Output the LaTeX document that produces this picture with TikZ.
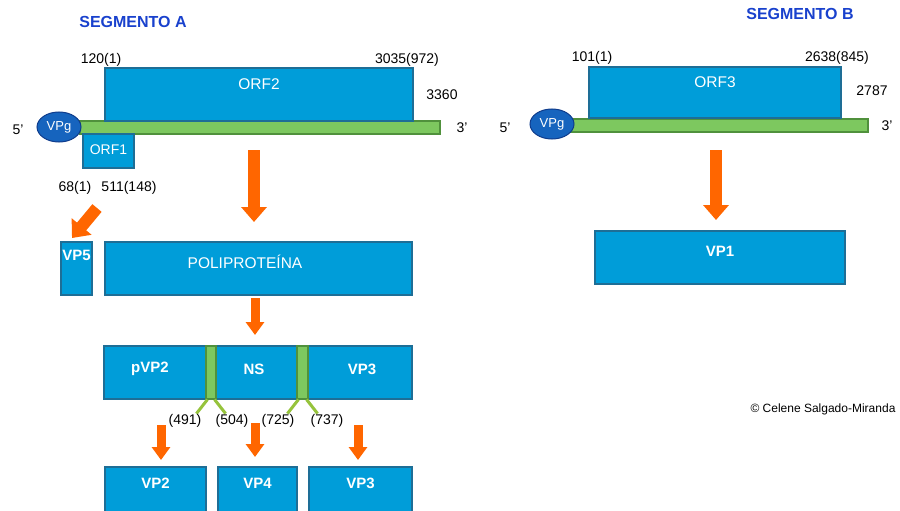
\documentclass[tikz,border=0pt]{standalone}
\usepackage{fontspec}
\setmainfont{Liberation Sans}
\usetikzlibrary{arrows.meta,shapes.geometric,positioning}
\definecolor{ibdvbox}{RGB}{0,157,217}
\definecolor{ibdvedge}{RGB}{30,110,150}
\definecolor{ibdvgreen}{RGB}{125,200,95}
\definecolor{ibdvgreenedge}{RGB}{80,145,60}
\definecolor{ibdvvpg}{RGB}{22,100,190}
\definecolor{ibdvvpgedge}{RGB}{15,60,140}
\definecolor{ibdvorange}{RGB}{255,102,0}
\definecolor{ibdvtitle}{RGB}{25,65,205}
\definecolor{ibdvcut}{RGB}{150,195,60}

\begin{document}
\begin{tikzpicture}[x=1pt, y=-1pt,
    protbox/.style={draw=ibdvedge, fill=ibdvbox, line width=1.2pt, rectangle, inner sep=0pt},
    rnabar/.style={draw=ibdvgreenedge, fill=ibdvgreen, line width=1.2pt, rectangle, inner sep=0pt, minimum height=13pt},
    vpg/.style={draw=ibdvvpgedge, fill=ibdvvpg, line width=1pt, ellipse, minimum width=44pt, minimum height=30pt, inner sep=0pt, text=white, font=\fontsize{13}{15}\selectfont},
    boxtext/.style={text=white, font=\fontsize{15.5}{18}\selectfont},
    boldtext/.style={text=white, font=\fontsize{15}{17}\selectfont\bfseries},
    numtext/.style={font=\fontsize{14}{16}\selectfont},
    segtitle/.style={text=ibdvtitle, font=\fontsize{16}{18}\selectfont\bfseries},
    bigarrow/.style={ibdvorange, line width=12pt, -{Triangle[width=25pt,length=15pt]}},
    smallarrow/.style={ibdvorange, line width=9pt, -{Triangle[width=18pt,length=13pt]}},
    cutline/.style={ibdvcut, line width=3pt}]
    \useasboundingbox (0,0) rectangle (900,511);

    % Titles
    \node[segtitle] (titA) at (133,22) {SEGMENTO A};
    \node[segtitle] (titB) at (800,14) {SEGMENTO B};

    % Segment A genome
    \node[rnabar, minimum width=360pt] (barA) at (260,127.5) {};
    \node[protbox, minimum width=308pt, minimum height=53pt] (orf2) at (259,94.5) {};
    \node[boxtext] (orf2lab) at (259,84) {ORF2};
    \node[protbox, minimum width=51pt, minimum height=34pt] (orf1) at (108.5,151) {};
    \node[boxtext, font=\fontsize{14}{16}\selectfont] (orf1lab) at (108.5,150) {ORF1};
    \node[vpg] (vpgA) at (59,127) {VPg};
    \node[numtext] (fiveA) at (18,130) {5'};
    \node[numtext] (threeA) at (462,128) {3'};
    \node[numtext] (n120) at (101,60) {120(1)};
    \node[numtext] (n3035) at (407,60) {3035(972)};
    \node[numtext] (n3360) at (442,95) {3360};
    \node[numtext] (n68) at (75,188) {68(1)};
    \node[numtext] (n511) at (129,188) {511(148)};

    % Segment B genome
    \node[rnabar, minimum width=298pt] (barB) at (719,125.5) {};
    \node[protbox, minimum width=252pt, minimum height=51pt] (orf3) at (715,92.5) {};
    \node[boxtext] (orf3lab) at (715,82) {ORF3};
    \node[vpg] (vpgB) at (552,124) {VPg};
    \node[numtext] (fiveB) at (505,128) {5'};
    \node[numtext] (threeB) at (887,126) {3'};
    \node[numtext] (n101) at (592,58) {101(1)};
    \node[numtext] (n2638) at (837,58) {2638(845)};
    \node[numtext] (n2787) at (872,91) {2787};

    % Translation products
    \node[protbox, minimum width=31pt, minimum height=53pt] (vp5) at (76.5,268.5) {};
    \node[boldtext] (vp5lab) at (76.5,255) {VP5};
    \node[protbox, minimum width=307pt, minimum height=53pt] (poly) at (258.5,268.5) {};
    \node[boxtext] (polylab) at (245,262) {POLIPROTEÍNA};
    \node[protbox, minimum width=250pt, minimum height=53pt] (vp1) at (720,257.5) {};
    \node[boldtext] (vp1lab) at (720,251) {VP1};

    % Precursor with cleavage sites
    \node[protbox, minimum width=308pt, minimum height=53pt] (prec) at (258,372.5) {};
    \foreach \x/\lab in {150/pVP2, 254/NS, 362/VP3} {
        \node[boldtext] at (\x,369) {\lab};
    }
    \node[rnabar, minimum width=10pt, minimum height=53pt] (cut1) at (211,372.5) {};
    \node[rnabar, minimum width=11pt, minimum height=53pt] (cut2) at (302.5,372.5) {};
    \foreach \c in {cut1, cut2} {
        \draw[cutline] (\c.south west) ++(2,0) -- ++(-11,14);
        \draw[cutline] (\c.south east) ++(-2,0) -- ++(11,14);
    }
    \foreach \x/\lab in {185/(491), 232/(504), 278/(725), 327/(737)} {
        \node[numtext] at (\x,421) {\lab};
    }

    % Final proteins
    \node[protbox, minimum width=101pt, minimum height=53pt] (vp2) at (155.5,493.5) {};
    \node[protbox, minimum width=79pt, minimum height=53pt] (vp4) at (257.5,493.5) {};
    \node[protbox, minimum width=103pt, minimum height=53pt] (vp3) at (360.5,493.5) {};
    \foreach \n/\lab in {vp2/VP2, vp4/VP4, vp3/VP3} {
        \node[boldtext] at (\n.north |- 0,483) {\lab};
    }

    % Arrows
    \coordinate (a1s) at (254,150);
    \coordinate (a1e) at (254,222);
    \coordinate (a2s) at (716,150);
    \coordinate (a2e) at (716,220);
    \coordinate (a3s) at (97,208);
    \coordinate (a3e) at (72,238);
    \coordinate (a4s) at (255,298);
    \coordinate (a4e) at (255,335);
    \draw[bigarrow] (a1s) -- (a1e);
    \draw[bigarrow] (a2s) -- (a2e);
    \draw[bigarrow] (a3s) -- (a3e);
    \draw[smallarrow] (a4s) -- (a4e);
    \foreach \x/\ya/\yb in {161/425/460, 255/423/457, 358/425/460} {
        \draw[smallarrow] (\x,\ya) -- (\x,\yb);
    }

    % Credit
    \node[font=\fontsize{12}{14}\selectfont] (credit) at (823,409) {© Celene Salgado-Miranda};
\end{tikzpicture}
\end{document}
